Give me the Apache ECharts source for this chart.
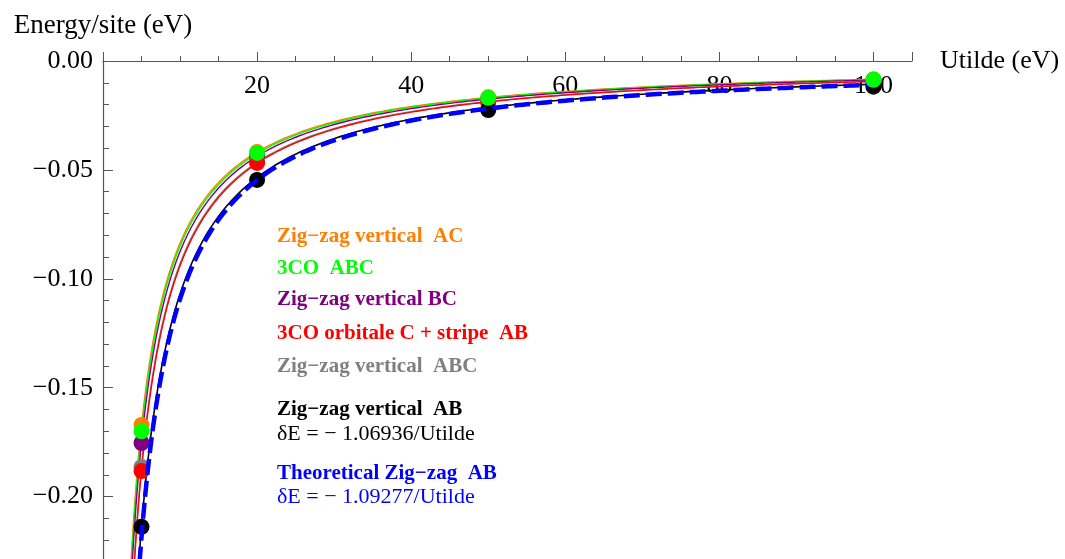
<!DOCTYPE html>
<html>
<head>
<meta charset="utf-8">
<script src="https://cdn.jsdelivr.net/npm/echarts@6/dist/echarts.min.js"></script>
<style>
html,body{margin:0;padding:0;background:#fff;}
#chart{width:1065px;height:559px;}
</style>
</head>
<body>
<div id="chart"></div>
<script>
// ---- data ----
const uValues = [5, 20, 50, 100];
const zigzagAC = [-0.1671, -0.0418, -0.0167, -0.0084];
const co3ABC = [-0.1700, -0.0422, -0.0169, -0.0086];
const zigzagBC = [-0.1754, -0.0437, -0.0175, -0.0088];
const zigzagABC = [-0.1864, -0.0462, -0.0186, -0.0093];
const co3OrbStripe = [-0.1883, -0.0468, -0.0190, -0.0095];
const zigzagAB = [-0.2139, -0.0546, -0.0225, -0.0118];
// fit coefficients a in deltaE = -a / Utilde
const fitAC = 0.836, fitABC3CO = 0.850, fitBC = 0.875, fitABC = 0.930, fitOrb = 0.940;
const fitAB = 1.06936, fitTheory = 1.09277;
const xTicks = [20, 40, 60, 80, 100];
const yTicks = [0, -0.05, -0.10, -0.15, -0.20];

const FONT = '"Liberation Serif","Times New Roman",serif';

function curve(a) {
  const pts = [];
  for (let u = 3.3; u < 10; u += 0.05) pts.push([u, -a / u]);
  for (let u = 10; u <= 100.001; u += 0.5) pts.push([u, -a / u]);
  return pts;
}
function pts(arr) { return uValues.map((u, i) => [u, arr[i]]); }

const C = {orange:'#FF8000', green:'#00FF00', purple:'#800080', gray:'#808080', red:'#FF0000', black:'#000000', blue:'#0000FF'};

function lineS(a, color, width, z, dash) {
  return {type:'line', data:curve(a), showSymbol:false, symbol:'none', z:z,
    lineStyle:{color:color, width:width, type: dash || 'solid'}, silent:true, animation:false, clip:true};
}
function scatS(arr, color, z) {
  return {type:'scatter', data:pts(arr), symbolSize:16, z:z, itemStyle:{color:color, opacity:1}, animation:false, silent:true};
}

const chart = echarts.init(document.getElementById('chart'));
const option = {
  animation:false,
  backgroundColor:'#fff',
  grid:{left:103, top:61, width:809, height:544.5, containLabel:false, outerBoundsMode:'none'},
  xAxis:{type:'value', position:'top', min:0, max:105, interval:20,
    name:'Utilde (eV)', nameLocation:'end', nameGap:28,
    nameTextStyle:{fontFamily:FONT, fontSize:26, color:'#000', verticalAlign:'middle'},
    axisLine:{onZero:false, lineStyle:{color:'#555', width:1.2}},
    axisTick:{inside:false, length:9, lineStyle:{color:'#555'}},
    minorTick:{show:true, splitNumber:4, length:5, lineStyle:{color:'#555'}},
    splitLine:{show:false},
    axisLabel:{inside:true, margin:12, fontFamily:FONT, fontSize:26, color:'#000', showMinLabel:false, showMaxLabel:false,
      formatter:v => xTicks.indexOf(v) >= 0 ? String(v) : ''}
  },
  yAxis:{type:'value', min:-0.25, max:0, interval:0.05,
    name:'Energy/site (eV)', nameLocation:'end', nameGap:22,
    nameTextStyle:{fontFamily:FONT, fontSize:27, color:'#000', align:'center'},
    axisLine:{onZero:false, lineStyle:{color:'#555', width:1.2}},
    axisTick:{inside:true, length:10, lineStyle:{color:'#555'}},
    minorTick:{show:true, splitNumber:5, length:6, lineStyle:{color:'#555'}},
    splitLine:{show:false},
    axisLabel:{margin:10, fontFamily:FONT, fontSize:26, color:'#000',
      formatter:v => { const r = Math.round(v*100)/100; if (!yTicks.some(t => Math.abs(t - r) < 1e-9)) return ''; return (r < 0 ? '\u2212' : '') + Math.abs(r).toFixed(2); }}
  },
  series:[
    lineS(fitAC, C.orange, 1.4, 2),
    lineS(fitABC3CO, C.green, 1.4, 2),
    lineS(fitBC, C.purple, 1.4, 2),
    lineS(fitABC, C.gray, 1.4, 2),
    lineS(fitOrb, C.red, 1.4, 2),
    lineS(fitAB, C.black, 1.6, 2),
    scatS(zigzagAC, C.orange, 3),
    scatS(zigzagBC, C.purple, 3),
    scatS(zigzagABC, C.gray, 3),
    scatS(co3OrbStripe, C.red, 3),
    scatS(zigzagAB, C.black, 3),
    lineS(fitTheory, C.blue, 4.5, 4, [16, 6]),
    scatS(co3ABC, C.green, 5)
  ],
  graphic:[]
};
const labels = [
  ['Zig\u2212zag vertical  AC', C.orange, 237, 'bold', 21],
  ['3CO  ABC', C.green, 269, 'bold', 21],
  ['Zig\u2212zag vertical BC', C.purple, 300, 'bold', 21],
  ['3CO orbitale C + stripe  AB', C.red, 334, 'bold', 21],
  ['Zig\u2212zag vertical  ABC', C.gray, 367, 'bold', 21],
  ['Zig\u2212zag vertical  AB', C.black, 410, 'bold', 21],
  ['\u03b4E = \u2212 1.06936/Utilde', C.black, 434, 'normal', 22],
  ['Theoretical Zig\u2212zag  AB', C.blue, 474, 'bold', 21],
  ['\u03b4E = \u2212 1.09277/Utilde', C.blue, 497, 'normal', 22]
];
option.graphic = labels.map(l => ({type:'text', x:277, y:l[2], z:10, silent:true,
  style:{text:l[0], fill:l[1], font: l[3] + ' ' + l[4] + 'px ' + FONT, textVerticalAlign:'middle', verticalAlign:'middle'}}));
chart.setOption(option);
</script>
</body>
</html>
